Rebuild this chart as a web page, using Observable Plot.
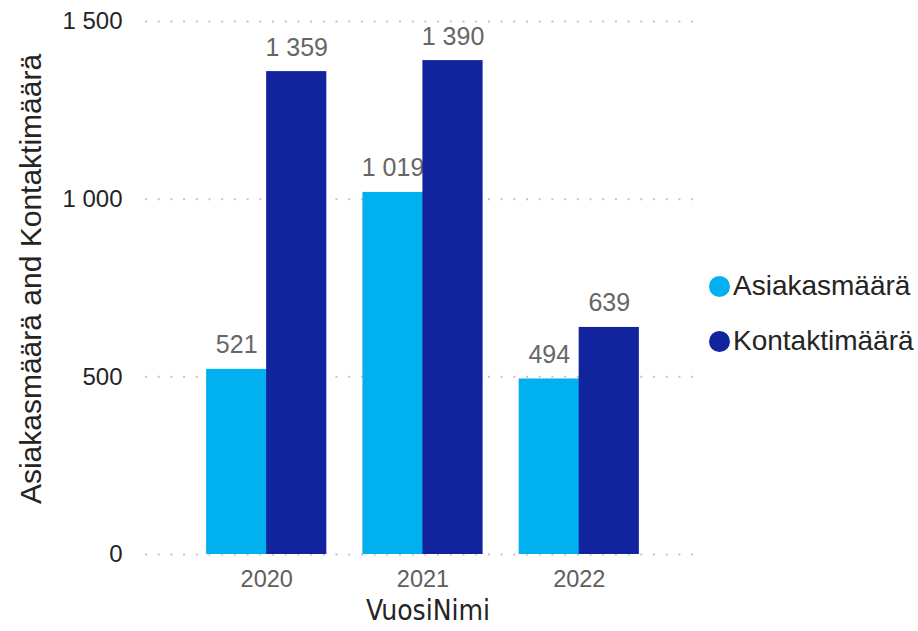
<!DOCTYPE html>
<html><head><meta charset="utf-8">
<script src="https://cdn.jsdelivr.net/npm/d3@7"></script>
<script src="https://cdn.jsdelivr.net/npm/@observablehq/plot@0.6"></script>
<style>
body{margin:0;background:#fff;}
#wrap{position:relative;width:918px;height:631px;font-family:"Liberation Sans",Arial,sans-serif;overflow:hidden;}
#wrap svg{position:absolute;left:0;top:0;}
.ytitle{position:absolute;left:31px;top:279px;transform:translate(-50%,-50%) rotate(-90deg);white-space:nowrap;font-size:30px;color:#252423;}
.xtitle{position:absolute;left:428px;top:610px;transform:translate(-50%,-50%);white-space:nowrap;font-family:"DejaVu Sans Condensed","DejaVu Sans",sans-serif;font-stretch:condensed;font-size:28px;color:#252423;}
.legend{position:absolute;left:709px;top:268px;}
.legend .item{display:flex;align-items:center;height:36px;margin-bottom:19px;font-size:28px;color:#252423;white-space:nowrap;}
.legend .sw{width:21px;height:21px;border-radius:50%;margin-right:3px;flex:none;}
</style></head><body><div id="wrap"></div>
<script>
const years = ["2020", "2021", "2022"];
const series = ["Asiakasmäärä", "Kontaktimäärä"];
const asiakas = [521, 1019, 494];
const kontakti = [1359, 1390, 639];
const yTicks = [0, 500, 1000, 1500];
const colors = ["#01B0EE", "#12239E"];
const yTitle = "Asiakasmäärä and Kontaktimäärä";
const xTitle = "VuosiNimi";

const dataA = years.map((y, i) => ({year: y, series: series[0], value: asiakas[i]}));
const dataK = years.map((y, i) => ({year: y, series: series[1], value: kontakti[i]}));
const fmt = v => d3.format(",")(v).replace(/,/g, " ");

const plot = Plot.plot({
  width: 918, height: 631,
  marginLeft: 143, marginRight: 216, marginTop: 21, marginBottom: 77,
  x: {domain: years, paddingInner: 0.2308, paddingOuter: 0.404, round: false, label: null},
  y: {domain: [0, 1500], label: null},
  style: {fontFamily: "'Liberation Sans', Arial, sans-serif", overflow: "visible", background: "#fff"},
  marks: [
    Plot.gridY(yTicks, {stroke: "#c4c4c4", strokeOpacity: 1, strokeWidth: 2, strokeDasharray: "2,10.7", strokeDashoffset: -2}),
    Plot.axisY({ticks: yTicks, tickFormat: fmt, tickSize: 0, tickPadding: 21, label: null, fontSize: 24, fill: "#252423"}),
    Plot.axisX({tickSize: 0, tickPadding: 16, label: null, fontSize: 23.5, fill: "#605E5C"}),
    Plot.text(dataA, {x: "year", y: "value", text: d => fmt(d.value), dx: -30, dy: -16, lineAnchor: "bottom", fontSize: 25, fill: "#666666"}),
    Plot.text(dataK, {x: "year", y: "value", text: d => fmt(d.value), dx: 30, dy: -16, lineAnchor: "bottom", fontSize: 25, fill: "#666666"}),
    Plot.barY(dataA, {x: "year", y: "value", fill: colors[0], insetRight: 59.5}),
    Plot.barY(dataK, {x: "year", y: "value", fill: colors[1], insetLeft: 60})
  ]
});

const wrap = document.getElementById("wrap");
wrap.appendChild(plot);
const yt = document.createElement("div"); yt.className = "ytitle"; yt.textContent = yTitle; wrap.appendChild(yt);
const xt = document.createElement("div"); xt.className = "xtitle"; xt.textContent = xTitle; wrap.appendChild(xt);
const lg = document.createElement("div"); lg.className = "legend";
series.forEach((s, i) => {
  const it = document.createElement("div"); it.className = "item";
  const sw = document.createElement("span"); sw.className = "sw"; sw.style.background = colors[i];
  const tx = document.createElement("span"); tx.textContent = s;
  it.appendChild(sw); it.appendChild(tx); lg.appendChild(it);
});
wrap.appendChild(lg);
</script></body></html>
